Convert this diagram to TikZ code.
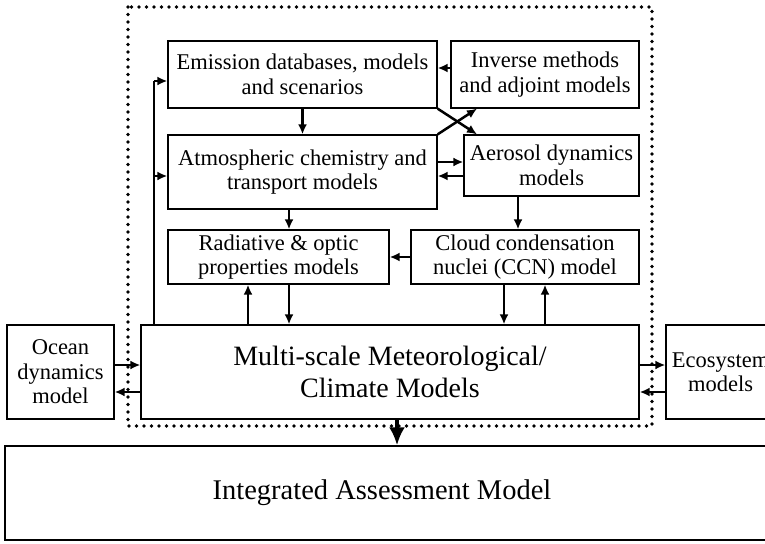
\documentclass[tikz,border=0pt]{standalone}
\usepackage{fontspec}
\setmainfont{Liberation Serif}
\usetikzlibrary{arrows.meta}
\begin{document}
\begin{tikzpicture}[x=1pt,y=-1pt,
  box/.style={draw, line width=1.3pt, inner sep=0pt, align=center,
    font=\fontsize{22.5}{24.5}\selectfont},
  arr/.style={-{Latex[length=10pt,width=9pt]}, line width=2.5pt},
  thin line/.style={line width=1.3pt},
  bigarr/.style={-{Latex[length=18pt,width=16pt]}, line width=4.5pt},
  dotbox/.style={line width=3.6pt, dash pattern=on 0pt off 7.5pt, line cap=round}]
\useasboundingbox (0,0) rectangle (765,543);
\clip (0,0) rectangle (765,543);
% boxes
\node[box, minimum width=269pt, minimum height=67pt] (emi) at (302.5,74.5) {Emission databases, models\\and scenarios};
\node[box, minimum width=188pt, minimum height=67pt] (inv) at (545,74.5) {Inverse methods\\and adjoint models};
\node[box, minimum width=269pt, minimum height=74pt] (atm) at (302.5,172) {Atmospheric chemistry and\\transport models};
\node[box, minimum width=175pt, minimum height=61pt] (aer) at (551.5,165.5) {Aerosol dynamics\\models};
\node[box, minimum width=221pt, minimum height=54pt] (rad) at (278.5,257) {Radiative \& optic\\properties models};
\node[box, minimum width=228pt, minimum height=54pt] (ccn) at (525,257) {Cloud condensation\\nuclei (CCN) model};
\node[box, minimum width=498pt, minimum height=94pt, font=\fontsize{28}{32}\selectfont] (multi) at (390,372) {Multi-scale Meteorological/\\Climate Models};
\node[box, minimum width=107pt, minimum height=94pt] (ocean) at (60.5,372) {Ocean\\dynamics\\model};
\node[box, minimum width=109pt, minimum height=94pt] (eco) at (720.5,372) {Ecosystem\\models};
\node[box, minimum width=770pt, minimum height=94pt, font=\fontsize{28.5}{32}\selectfont] (iam) at (390,493) {Integrated Assessment Model\hspace*{16pt}};
% dotted frame
\draw[dotbox] (128,7) rectangle (652,426);
% arrows
\draw[arr] (inv.west |- 0,68) -- (emi.east |- 0,68);
\draw[arr] (emi.south) -- (atm.north);
\draw[arr] (emi.south east) -- (aer.north -| 477,0);
\draw[arr] (atm.north east) -- (inv.south -| 477,0);
\draw[arr] (atm.east |- 0,162) -- (aer.west |- 0,162);
\draw[arr] (aer.west |- 0,176) -- (atm.east |- 0,176);
\draw[arr] (aer.south -| 518,0) -- (ccn.north -| 518,0);
\draw[arr] (atm.south -| 289,0) -- (rad.north -| 289,0);
\draw[arr] (ccn.west) -- (rad.east);
\draw[arr] (multi.north -| 248,0) -- (rad.south -| 248,0);
\draw[arr] (rad.south -| 289,0) -- (multi.north -| 289,0);
\draw[arr] (ccn.south -| 504,0) -- (multi.north -| 504,0);
\draw[arr] (multi.north -| 545,0) -- (ccn.south -| 545,0);
% feedback line
\coordinate (fbtop) at (154,81);
\coordinate (fbmid) at (154,176);
\draw[thin line] (multi.north -| fbtop) -- (fbtop);
\draw[arr] (fbtop) -- (emi.west |- fbtop);
\draw[arr] (fbmid) -- (atm.west |- fbmid);
% side models
\draw[arr] (ocean.east |- 0,365) -- (multi.west |- 0,365);
\draw[arr] (multi.west |- 0,392) -- (ocean.east |- 0,392);
\draw[arr] (multi.east |- 0,365) -- (eco.west |- 0,365);
\draw[arr] (eco.west |- 0,392) -- (multi.east |- 0,392);
% to integrated assessment
\draw[bigarr] (multi.south -| 397,0) -- (iam.north -| 397,0);
\end{tikzpicture}
\end{document}
